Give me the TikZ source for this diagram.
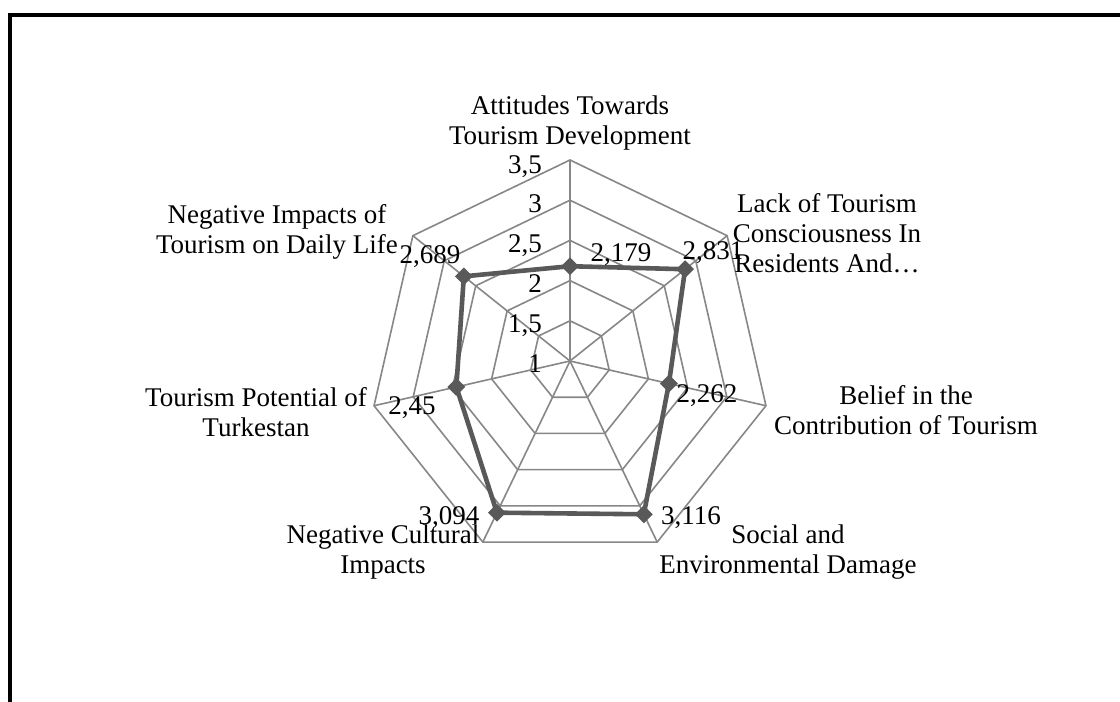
\documentclass[tikz,border=0pt]{standalone}
\usepackage{fontspec}
\setmainfont{Liberation Serif}
\usetikzlibrary{shapes.geometric}
\definecolor{gridgray}{HTML}{878787}
\definecolor{sergray}{HTML}{595959}
\begin{document}
\begin{tikzpicture}[x=1pt,y=-1pt,
  gridline/.style={draw=gridgray, line width=1.6pt, line join=miter},
  ser/.style={draw=sergray, line width=4.6pt, line join=round},
  mk/.style={diamond, fill=sergray, inner sep=0pt, minimum width=18pt, minimum height=18pt},
  lbl/.style={font=\fontsize{27}{30}\selectfont, align=center, inner sep=0pt},
  val/.style={font=\fontsize{27}{30}\selectfont, inner sep=0pt, text height=18pt, text depth=4pt},
  frame/.style={draw=black, line width=3.6pt}]
\useasboundingbox (0,0) rectangle (1120,702);
\fill[white] (0,0) rectangle (1120,702);
\draw[frame] (10,710) -- (10,15) -- (1130,15);
\coordinate (C) at (570,361);
\begin{scope}[x=1pt,y=1pt,shift={(570pt,-361pt)}]
  \foreach \k in {1,...,5}
    \draw[gridline] (90:\k*40.2) \foreach \i in {1,...,6}{ -- (90-\i*360/7:\k*40.2)} -- cycle;
  \foreach \i in {0,...,6}
    \draw[gridline] (0,0) -- (90-\i*360/7:201);
  \foreach \v [count=\i from 0] in {2.179,2.831,2.262,3.116,3.094,2.45,2.689}
    \coordinate (p\i) at (90-\i*360/7:{(\v-1)*80.4});
  \draw[ser] (p0) -- (p1) -- (p2) -- (p3) -- (p4) -- (p5) -- (p6) -- cycle;
  \foreach \i in {0,...,6}
    \node[mk] (m\i) at (p\i) {};
\end{scope}
% axis values
\node[val, anchor=east] (a35) at (542,166) {3,5};
\node[val, anchor=east] (a30) at (542,205) {3};
\node[val, anchor=east] (a25) at (542,245) {2,5};
\node[val, anchor=east] (a20) at (542,285) {2};
\node[val, anchor=east] (a15) at (542,325) {1,5};
\node[val, anchor=east] (a10) at (542,365) {1};
% data labels
\node[val] (v0) at (621,254) {2,179};
\node[val] (v1) at (713,252) {2,831};
\node[val] (v2) at (707,395) {2,262};
\node[val] (v3) at (691,517) {3,116};
\node[val] (v4) at (449,517) {3,094};
\node[val] (v5) at (412,407) {2,45};
\node[val] (v6) at (430,256) {2,689};
% category labels
\node[lbl] (c0) at (570,123) {Attitudes Towards\\Tourism Development};
\node[lbl] (c1) at (827,233) {Lack of Tourism\\Consciousness In\\Residents And\dots};
\node[lbl] (c2) at (906,410) {Belief in the\\Contribution of Tourism};
\node[lbl] (c3) at (788,552) {Social and\\Environmental Damage};
\node[lbl] (c4) at (383,552) {Negative Cultural\\Impacts};
\node[lbl] (c5) at (256,412) {Tourism Potential of\\Turkestan};
\node[lbl] (c6) at (277,232) {Negative Impacts of\\Tourism on Daily Life};
\end{tikzpicture}
\end{document}
